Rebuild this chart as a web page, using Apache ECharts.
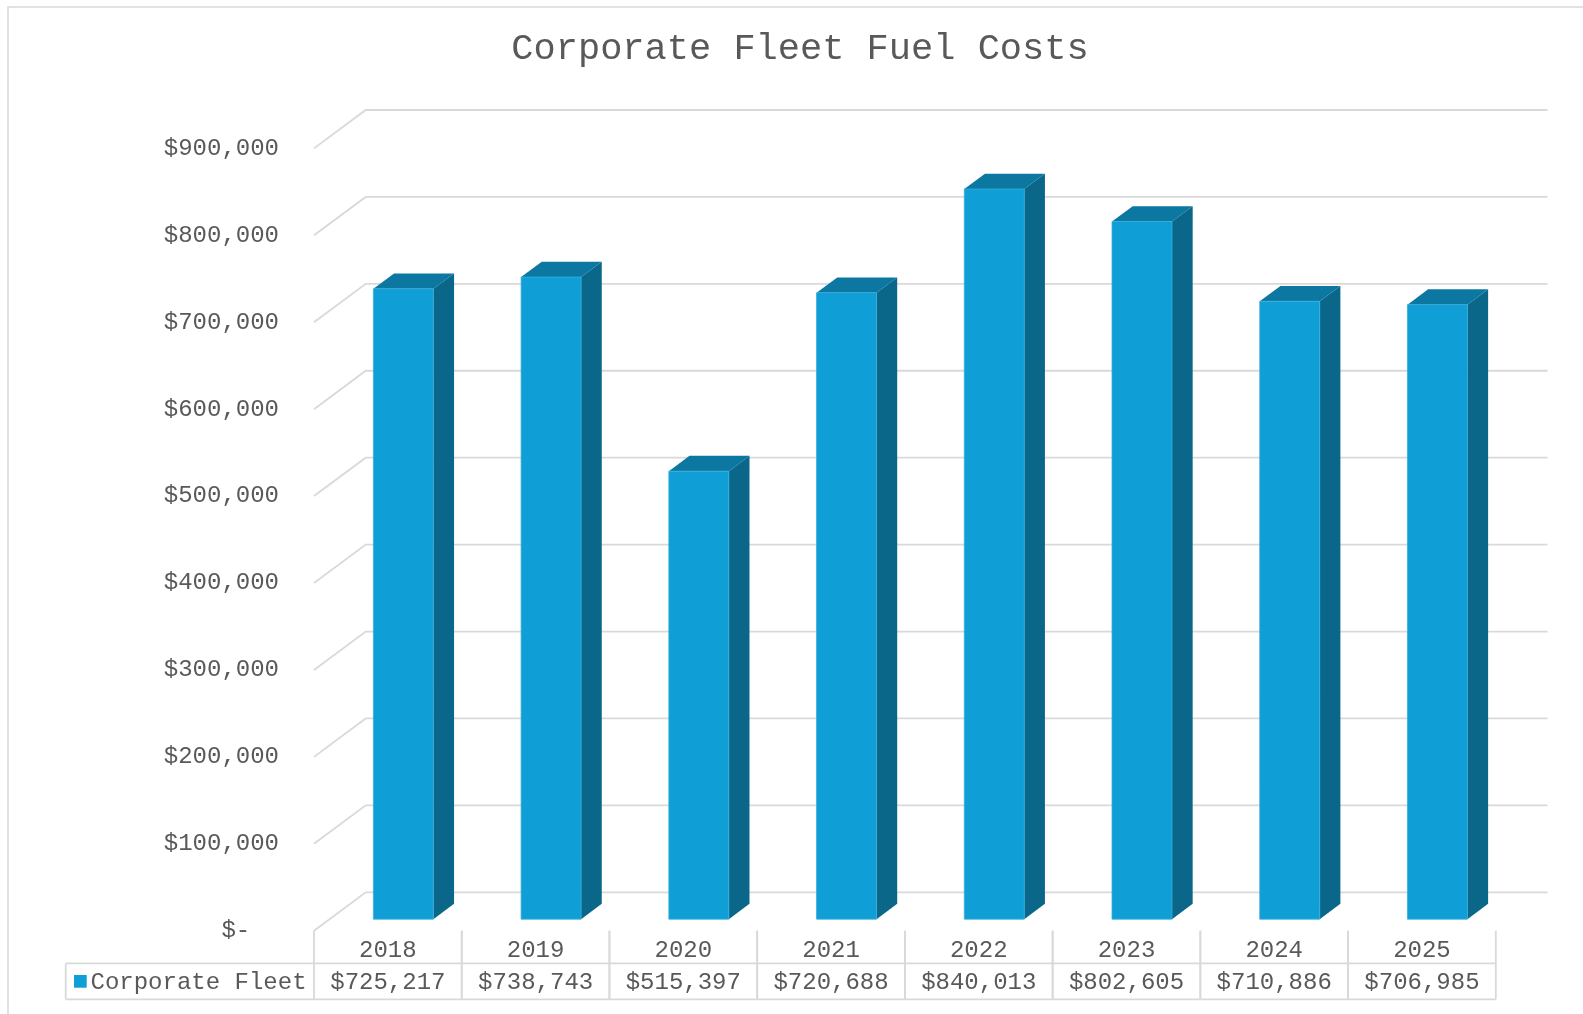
<!DOCTYPE html>
<html>
<head>
<meta charset="utf-8">
<script src="https://cdn.jsdelivr.net/npm/echarts@6/dist/echarts.min.js"></script>
<style>
html,body{margin:0;padding:0;background:#fff;}
#main{width:1583px;height:1014px;}
</style>
</head>
<body>
<div id="main"></div>
<script>
const titleText = 'Corporate Fleet Fuel Costs';
const seriesName = 'Corporate Fleet';
const years = ['2018','2019','2020','2021','2022','2023','2024','2025'];
const fuelCosts = [725217, 738743, 515397, 720688, 840013, 802605, 710886, 706985];
const yTicks = [0, 100000, 200000, 300000, 400000, 500000, 600000, 700000, 800000, 900000];

const FONT = "'Liberation Mono', 'Courier New', monospace";
const TEXT = '#595959';
const GRID = '#D9D9D9';
const FRONT = '#0F9ED5';
const SIDE = '#0A6789';
const TOP = '#0C77A1';
const DX = 51.7, DY = -38.4;   // depth projection of the 3D walls
const OFF = 0.30, DEP = 0.40, BW = 0.406;
const ROW1 = 32.6, ROW2 = 36;

function fmtMoney(v){
  if (v === 0) return '$-  ';
  return '$' + v.toLocaleString('en-US');
}

const chart = echarts.init(document.getElementById('main'), null, {renderer:'canvas'});

const option = {
  backgroundColor: '#fff',
  animation: false,
  graphic: [
    {type:'rect', shape:{x:8, y:7, width:1620, height:1050}, style:{fill:'none', stroke:GRID, lineWidth:1.5}, z:0},
    {type:'text', x:800, y:49, style:{text:titleText, font:'37px ' + FONT, fill:TEXT, textAlign:'center', textVerticalAlign:'middle'}, z:5}
  ],
  grid: {left:314, right:87.2, top:148.4, bottom:83.3, containLabel:false, outerBoundsMode:'none'},
  xAxis: {
    type:'category', data: years,
    axisLine:{show:false}, axisTick:{show:false}, splitLine:{show:false},
    axisLabel:{fontSize:24, fontFamily:FONT, color:TEXT, margin:8}
  },
  yAxis: {
    type:'value', min:0, max:900000, interval:100000,
    axisLine:{show:false}, axisTick:{show:false}, splitLine:{show:false},
    axisLabel:{fontSize:24, fontFamily:FONT, color:TEXT, margin:35, formatter: fmtMoney}
  },
  series: [
    {
      type:'custom', name:'grid', z:1, silent:true,
      data: yTicks.map(v => [0, v]),
      renderItem: function(params, api){
        const v = api.value(1);
        const band = api.size([1,0])[0];
        const pl = api.coord([0, v]);
        const pr = api.coord([years.length-1, v]);
        const xl = pl[0] - band/2, xr = pr[0] + band/2, y = pl[1];
        return {
          type:'polyline',
          shape:{points:[[xl, y],[xl+DX, y+DY],[xr+DX, y+DY]]},
          style:{stroke:GRID, lineWidth:1.8, fill:null}
        };
      }
    },
    {
      type:'custom', name:seriesName, z:3,
      data: fuelCosts.map((v,i) => [i, v]),
      renderItem: function(params, api){
        const i = api.value(0), v = api.value(1);
        const band = api.size([1,0])[0];
        const b = api.coord([i, 0]);
        const t = api.coord([i, v]);
        const w = band * BW;
        const ox = OFF*DX, oy = OFF*DY, dx = DEP*DX, dy = DEP*DY;
        const xl = b[0] - w/2 + ox, xr = xl + w;
        const yt = t[1] + oy, yb = b[1] + oy;
        return {
          type:'group',
          children:[
            {type:'polygon', shape:{points:[[xr,yt],[xr+dx,yt+dy],[xr+dx,yb+dy],[xr,yb]]}, style:{fill:SIDE}},
            {type:'polygon', shape:{points:[[xl,yt],[xl+dx,yt+dy],[xr+dx,yt+dy],[xr,yt]]}, style:{fill:TOP}},
            {type:'rect', shape:{x:xl, y:yt, width:w, height:yb-yt}, style:{fill:FRONT, stroke:'#36ADDD', lineWidth:0.8}}
          ]
        };
      }
    },
    {
      type:'custom', name:'table', z:2, silent:true,
      data: fuelCosts.map((v,i) => [i, 0, v]),
      renderItem: function(params, api){
        const i = api.value(0), v = api.value(2);
        const band = api.size([1,0])[0];
        const c = api.coord([i, 0]);
        const x0 = c[0] - band/2, x1 = c[0] + band/2;
        const y0 = c[1], y1 = y0 + ROW1, y2 = y1 + ROW2;
        const ls = {stroke:GRID, lineWidth:1.8};
        const children = [
          {type:'line', shape:{x1:x0, y1:y0, x2:x0, y2:y2}, style:ls},
          {type:'line', shape:{x1:x1, y1:y0, x2:x1, y2:y2}, style:ls},
          {type:'line', shape:{x1:x0, y1:y1, x2:x1, y2:y1}, style:ls},
          {type:'line', shape:{x1:x0, y1:y2, x2:x1, y2:y2}, style:ls},
          {type:'text', x:c[0], y:(y1+y2)/2 + 1, style:{text:fmtMoney(v), font:'24px ' + FONT, fill:TEXT, textAlign:'center', textVerticalAlign:'middle'}}
        ];
        if (i === 0) {
          const lx = 65.7;
          children.push(
            {type:'line', shape:{x1:lx, y1:y1, x2:x0, y2:y1}, style:ls},
            {type:'line', shape:{x1:lx, y1:y2, x2:x0, y2:y2}, style:ls},
            {type:'line', shape:{x1:lx, y1:y1, x2:lx, y2:y2}, style:ls},
            {type:'rect', shape:{x:74, y:(y1+y2)/2 - 6.3, width:12.7, height:12.7}, style:{fill:FRONT}},
            {type:'text', x:90.5, y:(y1+y2)/2 + 1, style:{text:seriesName, font:'24px ' + FONT, fill:TEXT, textAlign:'left', textVerticalAlign:'middle'}}
          );
        }
        return {type:'group', children};
      }
    }
  ]
};
chart.setOption(option);
</script>
</body>
</html>
